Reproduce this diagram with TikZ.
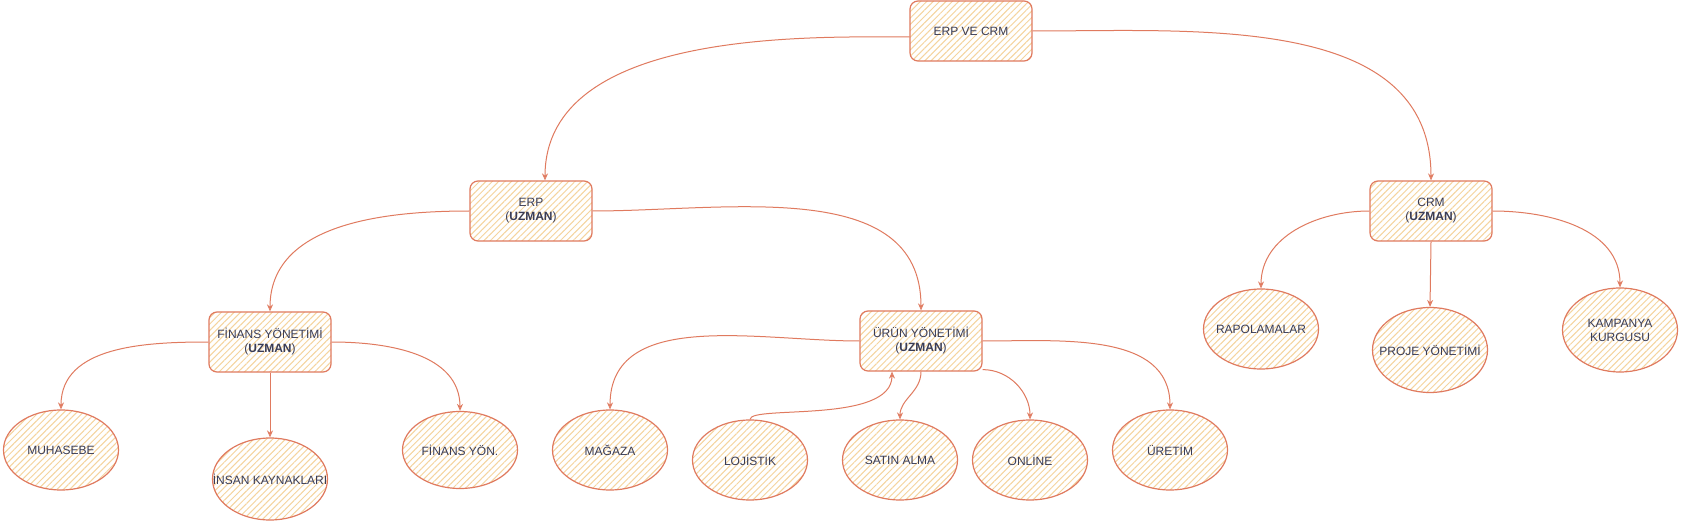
\documentclass[tikz,border=0pt]{standalone}
\usepackage{fontspec}
\setmainfont{Liberation Sans}
\usetikzlibrary{shapes.geometric,arrows.meta,patterns.meta}
\definecolor{linea}{HTML}{E07A5F}
\definecolor{riemp}{HTML}{F5D49E}
\definecolor{testo}{HTML}{393C56}
\begin{document}
\begin{tikzpicture}[x=1pt, y=1pt, thick, >={Stealth[open,length=7pt,width=6pt]},
    main/.style = {draw=linea, line width=1.2pt, rounded corners=8pt, minimum width=122pt, minimum height=60pt, align=center, text=testo, font=\fontsize{12}{14}\selectfont, pattern={Lines[angle=45,distance=4.5pt,line width=1pt]}, pattern color=riemp},
    leaf/.style = {main, ellipse, rounded corners=0pt, minimum width=115pt, minimum height=80pt, inner xsep=-20pt},
    arco/.style = {->, draw=linea, line width=1pt}]
    \path[use as bounding box, fill=white] (0,0) rectangle (1681,-521);

    % nodi dello schema
    \node[main] (0) at (971,-31) {ERP VE CRM};
    \node[main] (1) at (531,-211) {ERP\\(\textbf{UZMAN})};
    \node[main] (2) at (1431,-211) {CRM\\(\textbf{UZMAN})};
    \node[main] (3) at (270,-342) {FİNANS YÖNETİMİ\\(\textbf{UZMAN})};
    \node[main] (4) at (921,-341) {ÜRÜN YÖNETİMİ\\(\textbf{UZMAN})};

    \node[leaf] (5) at (61,-450) {MUHASEBE};
    \node[leaf, minimum height=82pt] (6) at (270,-479) {İNSAN KAYNAKLARI};
    \node[leaf, minimum height=77pt] (7) at (460,-450) {FİNANS YÖN.};
    \node[leaf] (8) at (610,-450) {MAĞAZA};
    \node[leaf] (9) at (750,-460) {LOJİSTİK};
    \node[leaf] (10) at (900,-460) {SATIN ALMA};
    \node[leaf] (11) at (1030,-460) {ONLİNE};
    \node[leaf] (12) at (1170,-450) {ÜRETİM};
    \node[leaf] (13) at (1261,-329) {RAPOLAMALAR};
    \node[leaf, minimum height=85pt] (14) at (1430,-350) {PROJE YÖNETİMİ};
    \node[leaf, minimum height=84pt] (15) at (1620,-330) {KAMPANYA\\KURGUSU};

    \draw[arco] ([yshift=-6pt]0.west) to[out=180, in=90, out looseness=0.6] ([xshift=14pt]1.north);
    \draw[arco] (0.east) to[out=0, in=90] (2.north);
    \draw[arco] (1.west) to[out=180, in=90] (3.north);
    \draw[arco] (1.east) to[out=0, in=90] (4.north);
    \draw[arco] (3.west) to[out=180, in=90] (5.north);
    \draw[arco] (3.south) -- (6.north);
    \draw[arco] (3.east) to[out=0, in=90] (7.north);
    \draw[arco] (4.west) to[out=180, in=90] (8.north);
    \draw[arco] (9.north) to[out=90, in=-90, out looseness=0.25, in looseness=0.9] ([xshift=-29pt]4.south);
    \draw[arco] (4.south) to[out=-90, in=90] (10.north);
    \draw[arco] ([yshift=2pt]4.south east) to[out=0, in=90] (11.north);
    \draw[arco] (4.east) to[out=0, in=90] (12.north);
    \draw[arco] (2.west) to[out=180, in=90] (13.north);
    \draw[arco] (2.south) -- (14.north);
    \draw[arco] (2.east) to[out=0, in=90] (15.north);

\end{tikzpicture}
\end{document}
